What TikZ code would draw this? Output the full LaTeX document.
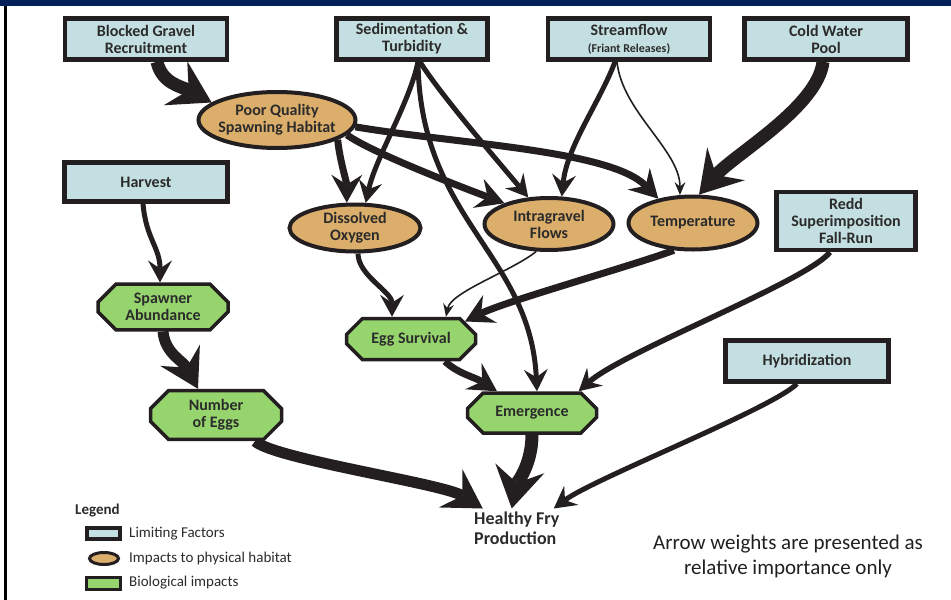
\documentclass[tikz,border=0pt]{standalone}
\usepackage{fontspec}
\setmainfont{Carlito}
\usetikzlibrary{arrows.meta,shapes.geometric,shapes.misc}
\definecolor{ink}{HTML}{231F20}
\definecolor{limfill}{HTML}{C4DFE1}
\definecolor{tanfill}{HTML}{DCAE6B}
\definecolor{biofill}{HTML}{96D56E}
\definecolor{navy}{HTML}{001F5B}
\definecolor{txt}{HTML}{2B2B2B}
\pgfdeclarelayer{back}
\pgfsetlayers{back,main}
\newcommand\labfont{\fontsize{16}{17}\selectfont\bfseries}
\newcommand\legfont{\fontsize{15}{17}\selectfont}
\tikzset{
  limbox/.style={rectangle, draw=ink, line width=4.5pt, fill=limfill, inner sep=0pt,
    align=center, font=\labfont, text=txt},
  physbox/.style={ellipse, draw=ink, line width=4pt, fill=tanfill, inner xsep=-10pt, inner ysep=0pt,
    align=center, font=\labfont, text=txt},
  biobox/.style={chamfered rectangle, chamfered rectangle xsep=9pt, chamfered rectangle ysep=9pt,
    draw=ink, line width=3.5pt, fill=biofill, inner sep=0pt, align=center, font=\labfont, text=txt},
  wHuge/.style={draw=ink, line width=13pt, -{Stealth[length=41pt,width=50pt,inset=15pt,line width=0pt]}},
  wHeavy/.style={draw=ink, line width=11pt, -{Stealth[length=38pt,width=45pt,inset=14pt,line width=0pt]}},
  wBold/.style={draw=ink, line width=7pt, -{Stealth[length=28pt,width=31pt,inset=10pt,line width=0pt]}},
  wMed/.style={draw=ink, line width=5pt, -{Stealth[length=22pt,width=24pt,inset=8pt,line width=0pt]}},
  wFine/.style={draw=ink, line width=1.6pt, -{Stealth[length=13pt,width=11pt,inset=4.5pt,line width=0pt]}},
}
\begin{document}
\begin{tikzpicture}[x=1pt,y=-1pt]
\useasboundingbox (0,0) rectangle (951,600);
\fill[navy] (0,0) rectangle (951,6);
\fill[black] (4,6) rectangle (6.5,600);

% limiting factors
\node[limbox, minimum width=162pt, minimum height=41pt] (bg) at (146,39) {Blocked Gravel\\Recruitment};
\node[limbox, minimum width=151pt, minimum height=41pt] (st) at (412,39) {Sedimentation \&\\Turbidity};
\node[limbox, minimum width=162pt, minimum height=41pt] (sf) at (629,39) {Streamflow\\{\fontsize{12}{13}\selectfont(Friant Releases)}};
\node[limbox, minimum width=163pt, minimum height=41pt] (cw) at (826,39) {Cold Water\\Pool};
\node[limbox, minimum width=163pt, minimum height=39pt] (hv) at (146,182) {Harvest};
\node[limbox, minimum width=139pt, minimum height=58pt] (rd) at (846,221) {Redd\\Superimposition\\Fall-Run};
\node[limbox, minimum width=163pt, minimum height=41pt] (hy) at (807,361) {Hybridization};

% physical habitat
\node[physbox, minimum width=157pt, minimum height=56pt] (pq) at (277,120) {Poor Quality\\Spawning Habitat};
\node[physbox, minimum width=131pt, minimum height=47pt] (do) at (355,228) {Dissolved\\Oxygen};
\node[physbox, minimum width=129pt, minimum height=52pt] (ig) at (549,224) {Intragravel\\Flows};
\node[physbox, minimum width=129pt, minimum height=53pt] (tp) at (693,223) {Temperature};

% biological
\node[biobox, minimum width=130pt, minimum height=42pt] (sa) at (163,307) {Spawner\\Abundance};
\node[biobox, minimum width=129pt, minimum height=41pt] (es) at (411,339) {Egg Survival};
\node[biobox, minimum width=131pt, minimum height=42pt] (ne) at (216,415) {Number\\of Eggs};
\node[biobox, minimum width=129pt, minimum height=40pt] (em) at (532,413) {Emergence};

\node[anchor=north west, inner sep=0pt, align=left, text=txt,
  font=\fontsize{18}{20}\selectfont\bfseries] (hf) at (474,511.5) {Healthy Fry\\Production};

\node[align=center, inner sep=0pt, text=ink, font=\fontsize{21}{25}\selectfont] (note) at (788,556)
  {Arrow weights are presented as\\relative importance only};

% legend
\node[anchor=west, inner sep=0pt, text=txt, font=\legfont\bfseries] (lg) at (75,511) {Legend};
\node[limbox, line width=4pt, minimum width=33pt, minimum height=11pt] (l1) at (103.5,533.5) {};
\node[physbox, line width=3pt, minimum width=29pt, minimum height=12pt] (l2) at (104,558.5) {};
\node[biobox, line width=3pt, minimum width=34pt, minimum height=12pt,
  chamfered rectangle xsep=3pt, chamfered rectangle ysep=3pt] (l3) at (103.5,583.5) {};
\node[anchor=west, inner sep=0pt, text=txt, font=\legfont] (t1) at (129,534) {Limiting Factors};
\node[anchor=west, inner sep=0pt, text=txt, font=\legfont] (t2) at (129,558) {Impacts to physical habitat};
\node[anchor=west, inner sep=0pt, text=txt, font=\legfont] (t3) at (129,583) {Biological impacts};

\begin{pgfonlayer}{back}
\draw[wHuge] ([xshift=11pt]bg.south) .. controls +(5,22) and +(-30,-16) .. (pq.165);
\draw[wMed] ([xshift=6pt]st.south) .. controls +(-8,40) and +(10,-45) .. (do.67);
\draw[wMed] ([xshift=8pt]st.south) .. controls +(18,30) and +(-25,-30) .. (ig.128);
\draw[wMed] ([xshift=6pt]st.south) .. controls +(2,158) and +(-7,-138) .. ([xshift=5pt]em.north);
\draw[wMed] ([xshift=-14pt]sf.south) .. controls +(-15,40) and +(5,-50) .. (ig.65);
\draw[wFine] ([xshift=-12pt]sf.south) .. controls +(5,50) and +(0,-45) .. (tp.115);
\draw[wHuge] ([xshift=-3pt]cw.south) .. controls +(-5,45) and +(35,-40) .. (tp.78);
\draw[wBold] (pq.-18) .. controls +(2,20) and +(0,-20) .. (do.108);
\draw[wBold] (pq.-12) .. controls +(25,18) and +(-40,-15) .. (ig.155);
\draw[wBold] (pq.-5) .. controls +(100,17) and +(-48,-49) .. (tp.145);
\draw[wMed] ([xshift=-3pt]hv.south) .. controls +(3,35) and +(0,-35) .. ([xshift=-3pt]sa.north);
\draw[wHeavy] (sa.south) .. controls +(2,22) and +(-15,-28) .. ([xshift=-18pt]ne.north);
\draw[wMed] ([xshift=3pt]do.south) .. controls +(0,22) and +(0,-25) .. ([xshift=-19pt]es.north);
\draw[wFine] (ig.-115) .. controls +(-25,20) and +(5,-25) .. ([xshift=35pt]es.north);
\draw[wBold] (tp.-125) .. controls +(-40,15) and +(40,-20) .. (es.18);
\draw[wBold] ([xshift=34pt]es.south) .. controls +(12,12) and +(-22,-14) .. ([xshift=-35pt]em.north);
\draw[wMed, line width=5.5pt] ([xshift=-16pt]rd.south) .. controls +(-25,30) and +(45,-40) .. (em.25);
\draw[wHeavy] ([xshift=39pt]ne.south) .. controls +(20,18) and +(-40,-25) .. ([xshift=-34pt,yshift=3pt]hf.north);
\draw[wHuge] (em.south) .. controls +(0,30) and +(5,-25) .. ([xshift=-5pt,yshift=3pt]hf.north);
\draw[wMed] ([xshift=-10pt]hy.south) .. controls +(-25,25) and +(40,-30) .. ([xshift=37pt,yshift=3pt]hf.north);
\end{pgfonlayer}
\end{tikzpicture}
\end{document}
